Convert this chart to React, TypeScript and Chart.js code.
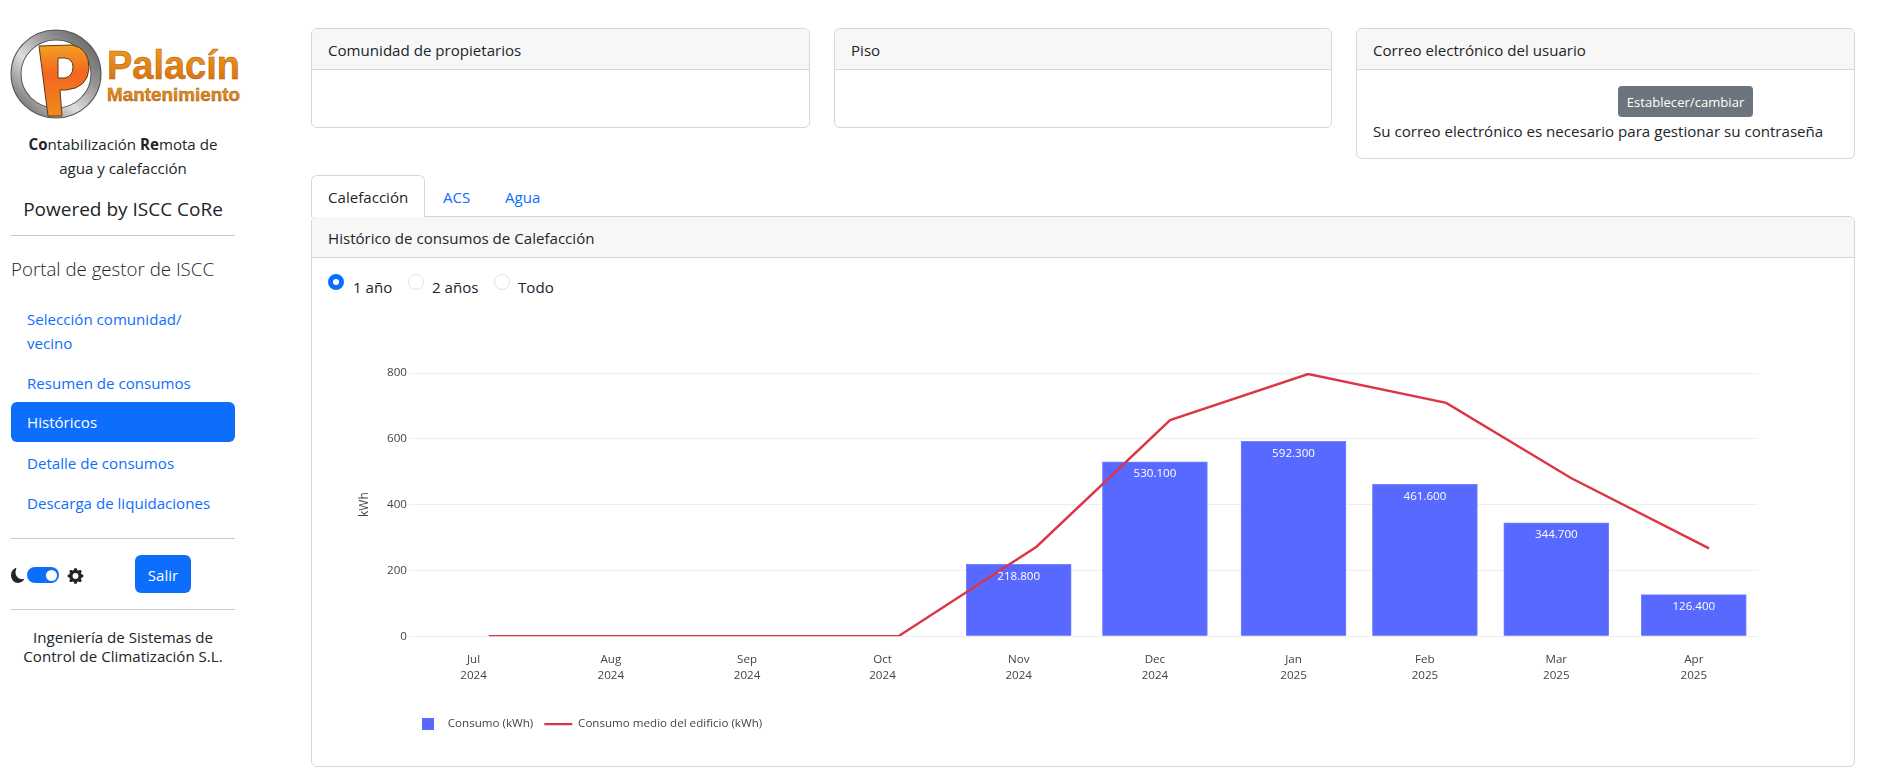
import React, { useEffect, useRef } from "react";
import { Chart, registerables } from "chart.js";

Chart.register(...registerables);

const FONT = "'Open Sans', 'Noto Sans', sans-serif";
Chart.defaults.font.family = FONT;

const months = ["Jul", "Aug", "Sep", "Oct", "Nov", "Dec", "Jan", "Feb", "Mar", "Apr"];
const years = ["2024", "2024", "2024", "2024", "2024", "2024", "2025", "2025", "2025", "2025"];

// the bars and tick labels sit a few days before the real month start
const barDates = [
  "2024-06-27T14:00Z",
  "2024-07-28T10:00Z",
  "2024-08-28T00:00Z",
  "2024-09-27T10:00Z",
  "2024-10-28T00:00Z",
  "2024-11-27T14:00Z",
  "2024-12-28T17:00Z",
  "2025-01-27T05:00Z",
  "2025-02-25T17:00Z",
  "2025-03-28T14:00Z",
];
const lineDates = [
  "2024-07-01T00:00Z",
  "2024-08-01T00:00Z",
  "2024-09-01T00:00Z",
  "2024-10-01T00:00Z",
  "2024-11-01T00:00Z",
  "2024-12-01T00:00Z",
  "2025-01-01T00:00Z",
  "2025-02-01T00:00Z",
  "2025-03-01T00:00Z",
  "2025-04-01T00:00Z",
];
const consumo = [null, null, null, null, 218.8, 530.1, 592.3, 461.6, 344.7, 126.4];
const consumoMedio = [0, 0, 0, 0, 272, 657, 797, 709, 481, 267];

const xMin = Date.parse("2024-06-15T19:00Z");
const xMax = Date.parse("2025-04-12T00:00Z");

const BLUE = "#0d6efd";
const BAR = "#5869ff";
const RED = "#dc3545";
const BORDER = "#d6d6d6";

const CANVAS_LEFT = 346;
const CANVAS_TOP = 340;

const valueLabels = {
  id: "valueLabels",
  afterDatasetsDraw(chart: any) {
    const ctx = chart.ctx;
    ctx.save();
    ctx.fillStyle = "#fff";
    ctx.font = `11.6px ${FONT}`;
    ctx.textAlign = "center";
    ctx.textBaseline = "middle";
    chart.getDatasetMeta(0).data.forEach((bar: any, i: number) => {
      const v = consumo[i];
      if (v == null) return;
      ctx.fillText(v.toFixed(3), bar.x, bar.y + 12);
    });
    ctx.restore();
  },
};

// legend starts under the plot, not at the canvas edge
const legendLeft = {
  id: "legendLeft",
  afterLayout(chart: any) {
    chart.legend.left = 57;
  },
};

const squareMarker = () => {
  const c = document.createElement("canvas");
  c.width = 12;
  c.height = 12;
  const ctx = c.getContext("2d")!;
  ctx.fillStyle = BAR;
  ctx.fillRect(0, 0, 12, 12);
  return c;
};

function ConsumoChart() {
  const canvas = useRef<HTMLCanvasElement>(null!);

  useEffect(() => {
    const marker = squareMarker();
    const chart = new Chart(canvas.current, {
      type: "bar",
      data: {
        datasets: [
          {
            label: "Consumo (kWh)",
            data: barDates.map((d, i) => ({ x: Date.parse(d), y: consumo[i] })),
            backgroundColor: BAR,
            borderColor: "#7583ff",
            borderWidth: 1,
            barThickness: 105,
            order: 2,
          },
          {
            type: "line",
            label: "Consumo medio del edificio (kWh)",
            data: lineDates.map((d, i) => ({ x: Date.parse(d), y: consumoMedio[i] })),
            borderColor: RED,
            backgroundColor: RED,
            borderWidth: 2.4,
            pointRadius: 0,
            pointStyle: "line",
            tension: 0,
            order: 1,
          },
        ] as any,
      },
      options: {
        responsive: false,
        animation: false,
        layout: { padding: { left: 7, right: 18, top: 33, bottom: 20.1 } },
        scales: {
          x: {
            type: "linear",
            min: xMin,
            max: xMax,
            offset: false,
            grid: { display: false },
            border: { display: false },
            afterBuildTicks: (scale: any) => {
              scale.ticks = barDates.map((d) => ({ value: Date.parse(d) }));
            },
            afterFit: (scale: any) => {
              scale.height = 71.1;
            },
            ticks: {
              color: "#444",
              padding: 7.5,
              autoSkip: false,
              maxRotation: 0,
              font: { size: 11.6, lineHeight: 1.35 },
              callback: (_v: any, i: number) => [months[i], years[i]],
            },
          },
          y: {
            min: 0,
            max: 800,
            grid: { color: "#eeeeee", tickLength: 12 },
            border: { display: false },
            afterFit: (scale: any) => {
              scale.width = 68;
            },
            ticks: { stepSize: 200, color: "#444", padding: 2, font: { size: 11.6 } },
            title: { display: true, text: "kWh", color: "#444", font: { size: 12 } },
          },
        },
        plugins: {
          tooltip: { enabled: false },
          legend: {
            position: "bottom",
            align: "start",
            labels: {
              usePointStyle: true,
              pointStyleWidth: 28,
              boxHeight: 12,
              padding: 11,
              color: "#444",
              font: { size: 11.6 },
              sort: (a: any, b: any) => a.datasetIndex - b.datasetIndex,
              generateLabels: (c: any) => {
                const items = Chart.defaults.plugins.legend.labels.generateLabels(c);
                items.forEach((item: any) => {
                  if (item.datasetIndex === 0) item.pointStyle = marker;
                });
                return items;
              },
            },
          },
        },
      } as any,
      plugins: [valueLabels, legendLeft],
    });
    return () => chart.destroy();
  }, []);

  return (
    <canvas
      ref={canvas}
      width={1430}
      height={420}
      style={{ position: "absolute", left: CANVAS_LEFT, top: CANVAS_TOP }}
    />
  );
}

// places one line of text by its vertical centre
function T({ x, y, w, size = 15.1, color = "#212529", align = "left", weight = 400, children }: any) {
  return (
    <div
      style={{
        position: "absolute",
        left: x,
        top: y - 15,
        width: w,
        height: 30,
        lineHeight: "30px",
        fontSize: size,
        color,
        textAlign: align,
        fontWeight: weight,
        whiteSpace: "nowrap",
      }}
    >
      {children}
    </div>
  );
}

function Card({ x, y, w, h, title, headerH = 41, titleY }: any) {
  return (
    <>
      <div
        style={{
          position: "absolute",
          left: x,
          top: y,
          width: w,
          height: h,
          boxSizing: "border-box",
          border: `1px solid ${BORDER}`,
          borderRadius: 6,
          overflow: "hidden",
          background: "#fff",
        }}
      >
        <div style={{ height: headerH, boxSizing: "border-box", background: "#f7f7f7", borderBottom: `1px solid ${BORDER}` }} />
      </div>
      <T x={x + 17} y={titleY ?? y + 22}>{title}</T>
    </>
  );
}

function Rule({ y }: { y: number }) {
  return <div style={{ position: "absolute", left: 11, width: 224, top: y, height: 1, background: "#c8c8c8" }} />;
}

function Radio({ x, on }: { x: number; on?: boolean }) {
  return (
    <div
      style={{
        position: "absolute",
        left: x,
        top: 274,
        width: 16,
        height: 16,
        boxSizing: "border-box",
        borderRadius: "50%",
        background: "#fff",
        border: on ? `5px solid ${BLUE}` : "1px solid #e2e2e2",
      }}
    />
  );
}

function Logo() {
  return (
    <svg style={{ position: "absolute", left: 0, top: 20 }} width={250} height={110} viewBox="0 20 250 110">
      <defs>
        <linearGradient id="ring" x1="1" y1="0" x2="0" y2="1">
          <stop offset="0" stopColor="#5c5c5c" />
          <stop offset="0.35" stopColor="#9a9a9a" />
          <stop offset="0.6" stopColor="#dedede" />
          <stop offset="1" stopColor="#5f5f5f" />
        </linearGradient>
        <linearGradient id="orange" x1="0" y1="0" x2="0" y2="1">
          <stop offset="0" stopColor="#f4a21c" />
          <stop offset="1" stopColor="#d8690c" />
        </linearGradient>
        <linearGradient id="pfill" x1="0" y1="0" x2="0" y2="1">
          <stop offset="0" stopColor="#f3a123" />
          <stop offset="0.4" stopColor="#f4661f" />
          <stop offset="1" stopColor="#ef8a1e" />
        </linearGradient>
      </defs>
      <ellipse cx="56" cy="74" rx="40" ry="39" fill="none" stroke="#555" strokeWidth="11" />
      <ellipse cx="56" cy="74" rx="40" ry="39" fill="none" stroke="url(#ring)" strokeWidth="9" />
      <path
        d="M39 46 L72 45 Q89 48 89 68 Q88 88 66 90 L60 90 L62 116 L48 116 Z M58 58 L58 78 L65 78 Q73 76 73 67 Q73 59 65 58 Z"
        fill="url(#pfill)"
        fillRule="evenodd"
        stroke="#5a3a1a"
        strokeWidth="1"
      />
      <text x="107" y="79" fontFamily="'Liberation Sans'" fontWeight="700" fontSize="41" fill="url(#orange)" stroke="#9a5a10" strokeWidth="0.5" textLength="133" lengthAdjust="spacingAndGlyphs">
        Palacín
      </text>
      <text x="107" y="101" fontFamily="'Liberation Sans'" fontWeight="700" fontSize="18" fill="url(#orange)" stroke="#9a5a10" strokeWidth="0.4" textLength="133" lengthAdjust="spacingAndGlyphs">
        Mantenimiento
      </text>
    </svg>
  );
}

function Sidebar() {
  return (
    <>
      <Logo />
      <T x={0} y={144} w={246} align="center"><b>Co</b>ntabilización <b>Re</b>mota de</T>
      <T x={0} y={168} w={246} align="center">agua y calefacción</T>
      <T x={0} y={209} w={246} align="center" size={19}>Powered by ISCC CoRe</T>
      <Rule y={235} />
      <T x={11} y={269} size={18.7} weight={300}>Portal de gestor de ISCC</T>
      <T x={27} y={319} color={BLUE}>Selección comunidad/</T>
      <T x={27} y={343} color={BLUE}>vecino</T>
      <T x={27} y={383} color={BLUE}>Resumen de consumos</T>
      <div style={{ position: "absolute", left: 11, top: 402, width: 224, height: 40, borderRadius: 6, background: BLUE }} />
      <T x={27} y={422} color="#fff">Históricos</T>
      <T x={27} y={463} color={BLUE}>Detalle de consumos</T>
      <T x={27} y={503} color={BLUE}>Descarga de liquidaciones</T>
      <Rule y={538} />
      <svg style={{ position: "absolute", left: 11, top: 568 }} width={13} height={15} viewBox="0 0 15 16" preserveAspectRatio="none">
        <path
          fill="#212529"
          d="M6 .278a.768.768 0 0 1 .08.858 7.208 7.208 0 0 0-.878 3.46c0 4.021 3.278 7.277 7.318 7.277.527 0 1.04-.055 1.533-.16a.787.787 0 0 1 .81.316.733.733 0 0 1-.031.893A8.349 8.349 0 0 1 8.344 16C3.734 16 0 12.286 0 7.71 0 4.266 2.114 1.312 5.124.06A.751.751 0 0 1 6 .278z"
        />
      </svg>
      <div style={{ position: "absolute", left: 27, top: 567, width: 32, height: 16, borderRadius: 8, background: BLUE }}>
        <div style={{ position: "absolute", left: 18.5, top: 2.5, width: 11, height: 11, borderRadius: "50%", background: "#fff" }} />
      </div>
      <svg style={{ position: "absolute", left: 67, top: 568 }} width={17} height={16} viewBox="0 0 16 16">
        <path
          fill="#212529"
          d="M9.405 1.05c-.413-1.4-2.397-1.4-2.81 0l-.1.34a1.464 1.464 0 0 1-2.105.872l-.31-.17c-1.283-.698-2.686.705-1.987 1.987l.169.311c.446.82.023 1.841-.872 2.105l-.34.1c-1.4.413-1.4 2.397 0 2.81l.34.1a1.464 1.464 0 0 1 .872 2.105l-.17.31c-.698 1.283.705 2.686 1.987 1.987l.311-.169a1.464 1.464 0 0 1 2.105.872l.1.34c.413 1.4 2.397 1.4 2.81 0l.1-.34a1.464 1.464 0 0 1 2.105-.872l.31.17c1.283.698 2.686-.705 1.987-1.987l-.169-.311a1.464 1.464 0 0 1 .872-2.105l.34-.1c1.4-.413 1.4-2.397 0-2.81l-.34-.1a1.464 1.464 0 0 1-.872-2.105l.17-.31c.698-1.283-.705-2.686-1.987-1.987l-.311.169a1.464 1.464 0 0 1-2.105-.872l-.1-.34zM8 10.93a2.929 2.929 0 1 1 0-5.86 2.929 2.929 0 0 1 0 5.858z"
        />
      </svg>
      <div style={{ position: "absolute", left: 135, top: 555, width: 56, height: 38, borderRadius: 6, background: BLUE }} />
      <T x={135} y={574.5} w={56} align="center" color="#fff">Salir</T>
      <Rule y={609} />
      <T x={0} y={636.5} w={246} align="center">Ingeniería de Sistemas de</T>
      <T x={0} y={655.5} w={246} align="center">Control de Climatización S.L.</T>
    </>
  );
}

export default function App() {
  return (
    <div
      style={{
        position: "absolute",
        left: 0,
        top: 0,
        width: 1891,
        height: 778,
        overflow: "hidden",
        background: "#fff",
        fontFamily: FONT,
      }}
    >
      <Sidebar />

      <Card x={311} y={28} w={499} h={100} title="Comunidad de propietarios" />
      <Card x={834} y={28} w={498} h={100} title="Piso" />
      <Card x={1356} y={28} w={499} h={131} title="Correo electrónico del usuario" />
      <T x={1373} y={131}>Su correo electrónico es necesario para gestionar su contraseña</T>
      <div style={{ position: "absolute", left: 1618, top: 86, width: 135, height: 31, borderRadius: 4, background: "#6c757d" }} />
      <T x={1618} y={102} w={135} align="center" color="#fff" size={13.1}>Establecer/cambiar</T>

      <Card x={311} y={216} w={1544} h={551} title="Histórico de consumos de Calefacción" titleY={237.5} />
      <div
        style={{
          position: "absolute",
          left: 311,
          top: 175,
          width: 114,
          height: 42,
          boxSizing: "border-box",
          border: `1px solid ${BORDER}`,
          borderBottom: "none",
          borderRadius: "6px 6px 0 0",
          background: "#fff",
        }}
      />
      <T x={328} y={196.5}>Calefacción</T>
      <T x={443} y={196.5} color={BLUE}>ACS</T>
      <T x={505} y={196.5} color={BLUE}>Agua</T>

      <Radio x={328} on />
      <T x={353} y={287}>1 año</T>
      <Radio x={408} />
      <T x={432} y={287}>2 años</T>
      <Radio x={494} />
      <T x={518} y={287}>Todo</T>

      <ConsumoChart />
    </div>
  );
}
